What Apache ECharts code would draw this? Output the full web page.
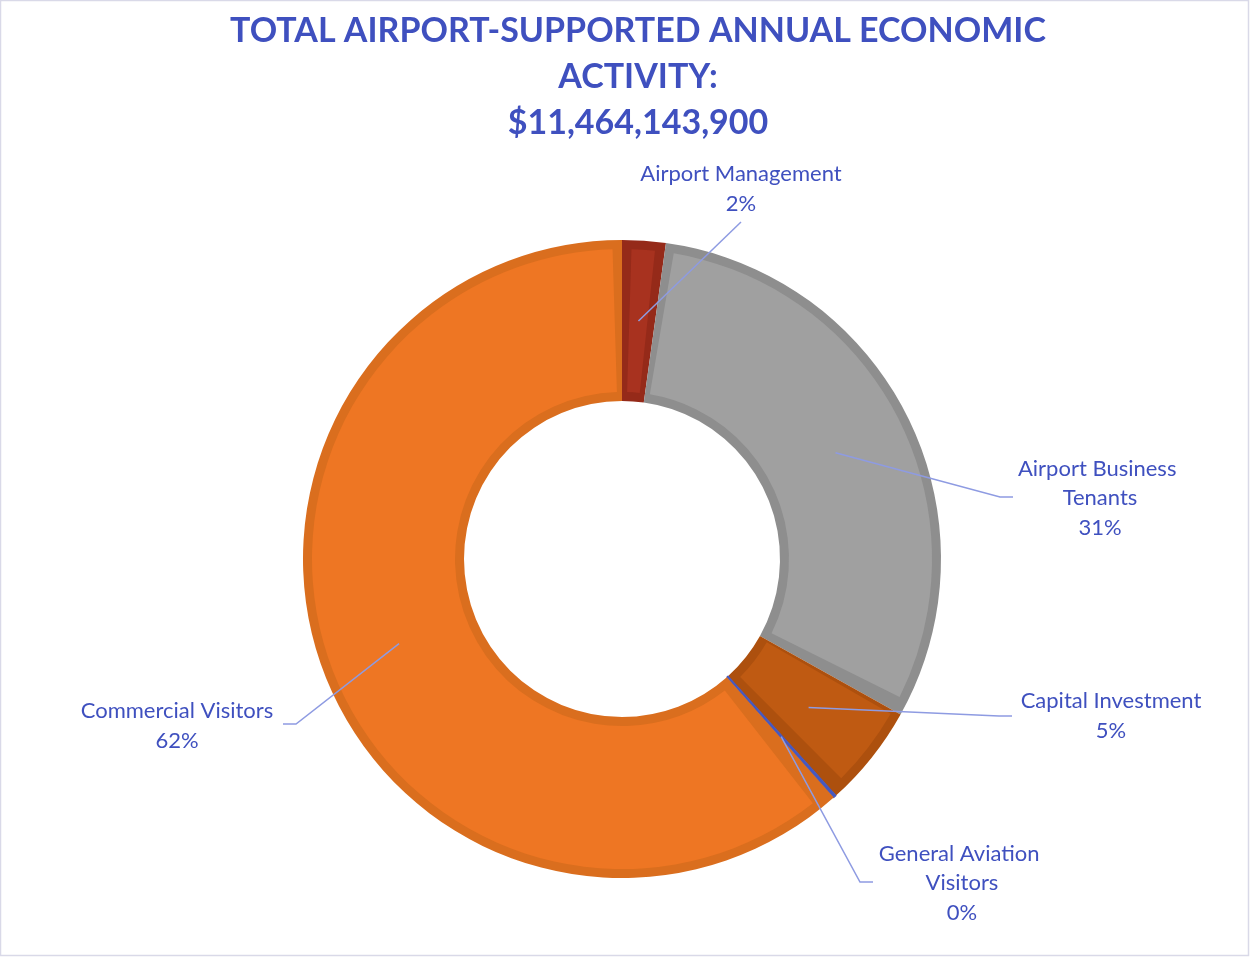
<!DOCTYPE html>
<html><head><meta charset="utf-8">
<script src="https://cdn.jsdelivr.net/npm/echarts@6/dist/echarts.min.js"></script>
<style>html,body{margin:0;padding:0;background:#fff}#main{width:1250px;height:957px}</style>
</head><body><div id="main"></div>
<script>
// ---------- data ----------
const categories = ['Airport Management', 'Airport Business Tenants', 'Capital Investment', 'General Aviation Visitors', 'Commercial Visitors'];
const values = [252211000, 3542420000, 596135000, 17200000, 7056177900];
const titlePrefix = 'TOTAL AIRPORT-SUPPORTED ANNUAL ECONOMIC\nACTIVITY:';

// ---------- styles / layout ----------
const fillColors = ['#A8321F', '#A0A0A0', '#BF5A12', '#4658C0', '#EE7623'];
const edgeColors = ['#952A19', '#8E8E8E', '#AD500E', '#4658C0', '#DA6E1E'];
const edgeStroke = [0, 0, 0, 1.2, 0];
const CX = 622, CY = 559, R0 = 158, R1 = 319, INSET = 9;
const labelWrapWidth = [null, 175, 210, 175, 220];
const labelCfg = [
  {x: 741, y: 189, lx: 741, ly: 222, elbow: 0},
  {x: 1100, y: 498, lx: 1013, ly: 497, elbow: -13},
  {x: 1111, y: 716, lx: 1012, ly: 716, elbow: -13},
  {x: 962, y: 883, lx: 873, ly: 882, elbow: -13},
  {x: 177, y: 726, lx: 283, ly: 724, elbow: 13}
];
const FONT = 'Lato, "Open Sans", sans-serif';
const BLUE = '#3F50BF';

const total = values.reduce((a, b) => a + b, 0);
const midAngles = [];
let acc = 0;
values.forEach(v => { midAngles.push((acc + v / 2) / total * Math.PI * 2); acc += v; });

const chart = echarts.init(document.getElementById('main'), null, {renderer: 'canvas'});
const base = {type: 'pie', center: [CX, CY], startAngle: 90, clockwise: true, silent: true, animation: false};

chart.setOption({
  backgroundColor: '#fff',
  animation: false,
  title: {
    text: titlePrefix + '\n$' + total.toLocaleString('en-US'),
    left: 638, top: 0, padding: [8, 0, 0, 0], textAlign: 'center',
    textStyle: {fontFamily: FONT, fontWeight: 'bold', fontSize: 34, lineHeight: 46, color: BLUE}
  },
  graphic: [{type: 'rect', shape: {x: 0.5, y: 0.5, width: 1248, height: 955}, style: {fill: 'none', stroke: '#D9D9E8', lineWidth: 1.5}, silent: true}],
  series: [
    Object.assign({}, base, {
      name: 'edge', radius: [R0, R1], z: 1,
      label: {show: false}, labelLine: {show: false},
      data: categories.map((c, i) => ({name: c, value: values[i],
        itemStyle: {color: edgeColors[i], borderWidth: edgeStroke[i], borderColor: edgeColors[i]}}))
    }),
    Object.assign({}, base, {
      name: 'fill', radius: [R0 + INSET, R1 - INSET], padAngle: 3.5, z: 2,
      label: {show: false}, labelLine: {show: false},
      data: categories.map((c, i) => ({name: c, value: values[i], itemStyle: {color: fillColors[i], borderWidth: 0}}))
    }),
    Object.assign({}, base, {
      name: 'labels', radius: [R0, R1], z: 3, percentPrecision: 0,
      itemStyle: {color: 'rgba(0,0,0,0)', borderWidth: 0},
      label: {show: true, position: 'outside', formatter: '{b}\n{d}%', fontFamily: FONT, fontSize: 22, lineHeight: 29.5, color: BLUE, align: 'center'},
      labelLine: {show: true, lineStyle: {color: '#8E9BE2', width: 1.5}},
      labelLayout: function (p) {
        const c = labelCfg[p.dataIndex];
        const a = midAngles[p.dataIndex];
        const rm = (R0 + R1) / 2;
        const sx = CX + rm * Math.sin(a), sy = CY - rm * Math.cos(a);
        return {x: c.x, y: c.y, align: 'center', verticalAlign: 'middle',
          labelLinePoints: [[sx, sy], [c.lx + c.elbow, c.ly], [c.lx, c.ly]]};
      },
      data: categories.map((c, i) => ({name: c, value: values[i],
        label: labelWrapWidth[i] ? {width: labelWrapWidth[i], overflow: 'break'} : {}}))
    })
  ]
});
</script></body></html>
